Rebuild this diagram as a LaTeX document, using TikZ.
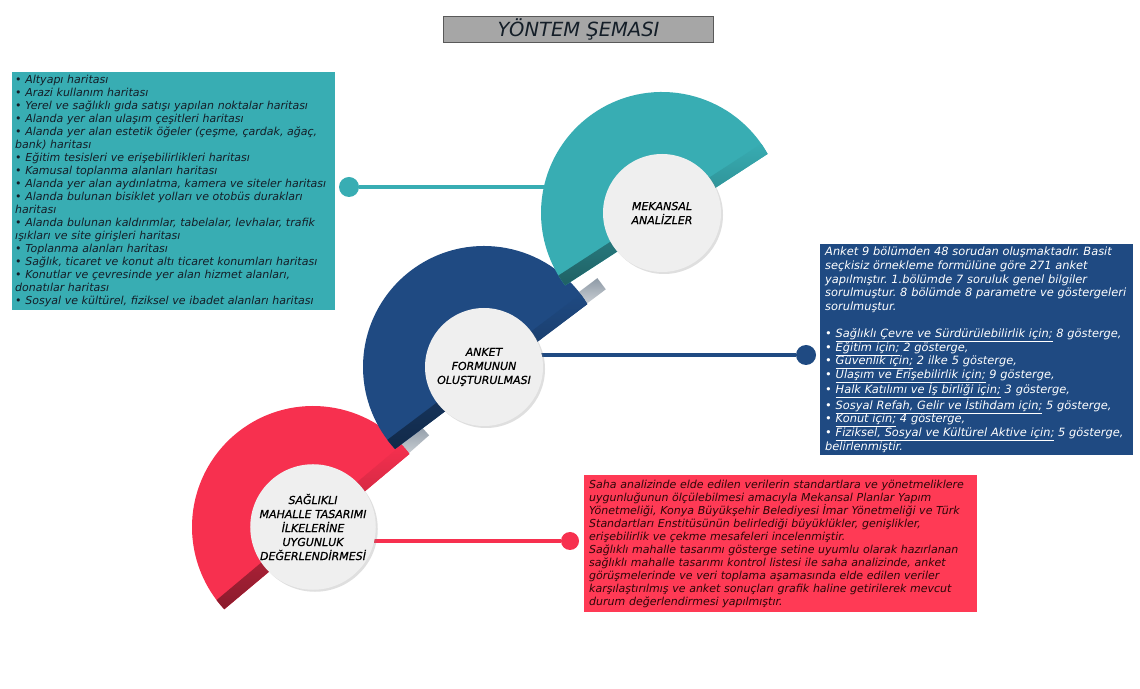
\documentclass[tikz,border=0pt]{standalone}
\usepackage{fontspec}
\setmainfont{DejaVu Sans}
\usetikzlibrary{positioning,shadows,calc}
\definecolor{tealc}{HTML}{38ADB3}
\definecolor{navy}{HTML}{1F4A82}
\definecolor{rosered}{HTML}{F7304F}
\definecolor{boxred}{HTML}{FF3A55}
\definecolor{hubgray}{HTML}{EFEFEF}
\definecolor{titlegray}{HTML}{A6A6A6}
\definecolor{barcol}{HTML}{8E9AA6}
\definecolor{ink}{HTML}{141E28}
\definecolor{maroon}{HTML}{2E0608}
\newcommand{\uln}[1]{\leavevmode\vtop{\hbox{#1}\kern1.2pt\hrule height .6pt}}
\frenchspacing
\hyphenpenalty=10000
\exhyphenpenalty=10000

\tikzset{
  infobox/.style={anchor=north west, align=left, inner xsep=5pt, inner ysep=3pt,
    font=\fontsize{11}{13}\selectfont\itshape},
  hub/.style={circle, fill=hubgray, minimum size=118pt, inner sep=0pt, align=center,
    font=\fontsize{11}{14}\selectfont\itshape\addfontfeatures{FakeBold=0.6}, text=black,
    drop shadow={opacity=.25, shadow xshift=2pt, shadow yshift=-2pt}},
  knob/.style={circle, minimum size=20pt, inner sep=0pt},
  link/.style={line width=4pt},
  barpiece/.style={top color=barcol, bottom color=gray!8},
}

\begin{document}
\begin{tikzpicture}[x=1pt,y=1pt]
  \useasboundingbox[fill=white] (0,0) rectangle (1140,688);

  \coordinate (rc) at (313,161);
  \coordinate (bc) at (484,321);
  \coordinate (tc) at (662,475);

  \node[draw=gray!70!black, fill=titlegray, minimum width=270pt, minimum height=26pt,
    inner sep=0pt, font=\fontsize{19.5}{20}\selectfont\itshape, text=ink] (title)
    at (578.5,659) {YÖNTEM ŞEMASI};

  % grey pieces of the diagonal between the discs
  \shade[barpiece, rotate around={41.6:(402,238)}] (372,231) rectangle (432,245);
  \shade[barpiece, rotate around={37:(580,388)}] (553,381) rectangle (607,395);

  \node[knob, fill=tealc] (tknob) at (349,501) {};
  \node[knob, fill=navy] (bknob) at (806,333) {};
  \node[knob, fill=rosered, minimum size=18pt] (rknob) at (570,147) {};

  \draw[link, tealc] (tknob) -- (tknob -| tc);
  \draw[link, navy] (bknob) -- (bknob -| bc);
  \draw[link, rosered] (rknob) -- (rknob -| rc);

  \foreach \ctr/\col/\ang/\off in {rc/rosered/40/6, bc/navy/37/12, tc/tealc/33/8} {
    \pgfmathsetmacro\aoff{asin(\off/121)}
    \begin{scope}[shift={(\ctr)}, rotate=\ang]
      \fill[\col] (-\aoff:121) arc[start angle=-\aoff, end angle=180+\aoff, radius=121] -- cycle;
      \begin{scope}
        \clip (-\aoff:121) arc[start angle=-\aoff, end angle=180+\aoff, radius=121] -- cycle;
        \shade[top color=\col, bottom color=\col!55!black] (-125,-\off+12) rectangle (125,-\off);
      \end{scope}
    \end{scope}
  }

  \node[hub] (thub) at (tc) {MEKANSAL\\ANALİZLER};
  \node[hub] (bhub) at (bc) {ANKET\\FORMUNUN\\OLUŞTURULMASI};
  \node[hub] (rhub) at (rc) {SAĞLIKLI\\MAHALLE TASARIMI\\İLKELERİNE\\UYGUNLUK\\DEĞERLENDİRMESİ};

  \node[infobox, fill=tealc, text=ink, text width=317pt, minimum height=238pt, inner xsep=3pt] (tbox) at (12,616) {%
    • Altyapı haritası\\
    • Arazi kullanım haritası\\
    • Yerel ve sağlıklı gıda satışı yapılan noktalar haritası\\
    • Alanda yer alan ulaşım çeşitleri haritası\\
    • Alanda yer alan estetik öğeler (çeşme, çardak, ağaç,\\
    bank) haritası\\
    • Eğitim tesisleri ve erişebilirlikleri haritası\\
    • Kamusal toplanma alanları haritası\\
    • Alanda yer alan aydınlatma, kamera ve siteler haritası\\
    • Alanda bulunan bisiklet yolları ve otobüs durakları\\
    haritası\\
    • Alanda bulunan kaldırımlar, tabelalar, levhalar, trafik\\
    ışıkları ve site girişleri haritası\\
    • Toplanma alanları haritası\\
    • Sağlık, ticaret ve konut altı ticaret konumları haritası\\
    • Konutlar ve çevresinde yer alan hizmet alanları,\\
    donatılar haritası\\
    • Sosyal ve kültürel, fiziksel ve ibadet alanları haritası};

  \node[infobox, fill=navy, text=white, text width=303pt, minimum height=211pt,
    font=\fontsize{11.4}{13.6}\selectfont\itshape] (bbox) at (820,444) {%
    Anket 9 bölümden 48 sorudan oluşmaktadır. Basit\\
    seçkisiz örnekleme formülüne göre 271 anket\\
    yapılmıştır. 1.bölümde 7 soruluk genel bilgiler\\
    sorulmuştur. 8 bölümde 8 parametre ve göstergeleri\\
    sorulmuştur.\\[13.6pt]
    • \uln{Sağlıklı Çevre ve Sürdürülebilirlik için;} 8 gösterge,\\
    • \uln{Eğitim için;} 2 gösterge,\\
    • \uln{Güvenlik için;} 2 ilke 5 gösterge,\\
    • \uln{Ulaşım ve Erişebilirlik için;} 9 gösterge,\\
    • \uln{Halk Katılımı ve İş birliği için;} 3 gösterge,\\
    • \uln{Sosyal Refah, Gelir ve İstihdam için;} 5 gösterge,\\
    • \uln{Konut için;} 4 gösterge,\\
    • \uln{Fiziksel, Sosyal ve Kültürel Aktive için;} 5 gösterge,\\
    belirlenmiştir.};

  \node[infobox, fill=boxred, text=maroon, text width=383pt, minimum height=137pt] (rbox) at (584,213) {%
    Saha analizinde elde edilen verilerin standartlara ve yönetmeliklere\\
    uygunluğunun ölçülebilmesi amacıyla Mekansal Planlar Yapım\\
    Yönetmeliği, Konya Büyükşehir Belediyesi İmar Yönetmeliği ve Türk\\
    Standartları Enstitüsünün belirlediği büyüklükler, genişlikler,\\
    erişebilirlik ve çekme mesafeleri incelenmiştir.\\
    Sağlıklı mahalle tasarımı gösterge setine uyumlu olarak hazırlanan\\
    sağlıklı mahalle tasarımı kontrol listesi ile saha analizinde, anket\\
    görüşmelerinde ve veri toplama aşamasında elde edilen veriler\\
    karşılaştırılmış ve anket sonuçları grafik haline getirilerek mevcut\\
    durum değerlendirmesi yapılmıştır.};
\end{tikzpicture}
\end{document}
